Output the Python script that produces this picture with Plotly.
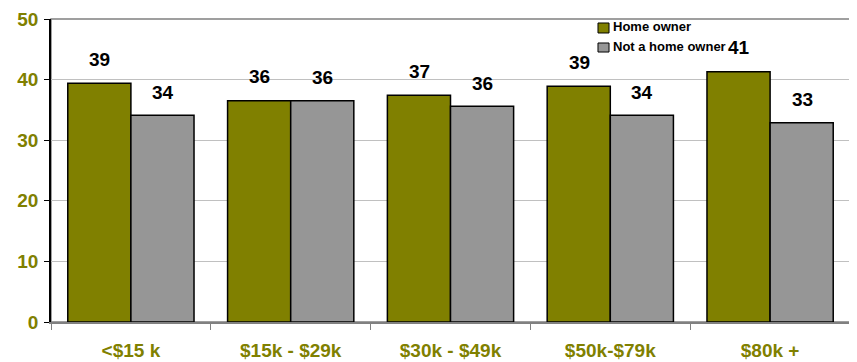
import plotly.graph_objects as go

# ---------- Data ----------
categories = ["<$15 k", "$15k - $29k", "$30k - $49k", "$50k-$79k", "$80k +"]
home_owner = [39.4, 36.5, 37.4, 38.9, 41.3]
not_home_owner = [34.1, 36.5, 35.6, 34.1, 32.9]
home_owner_labels = ["39", "36", "37", "39", "41"]
not_home_owner_labels = ["34", "36", "36", "34", "33"]
series_names = ["Home owner", "Not a home owner"]

OLIVE = "#808000"
GRAY = "#969696"
FONT = "Liberation Sans, Arial, sans-serif"

fig = go.Figure()
fig.add_trace(go.Bar(x=categories, y=home_owner, name=series_names[0],
                     marker=dict(color=OLIVE, line=dict(color="black", width=1.5))))
fig.add_trace(go.Bar(x=categories, y=not_home_owner, name=series_names[1],
                     marker=dict(color=GRAY, line=dict(color="black", width=1.5))))

# value labels sit a bit above each bar
for cat, v, lab in zip(categories, home_owner, home_owner_labels):
    fig.add_annotation(x=cat, y=v, text=f"<b>{lab}</b>", showarrow=False,
                       xshift=-31, yshift=24, font=dict(size=19, color="black", family=FONT))
for cat, v, lab in zip(categories, not_home_owner, not_home_owner_labels):
    fig.add_annotation(x=cat, y=v, text=f"<b>{lab}</b>", showarrow=False,
                       xshift=32, yshift=23, font=dict(size=19, color="black", family=FONT))

# gray frame on top / right
fig.add_shape(type="rect", xref="paper", yref="paper", x0=0, y0=0, x1=1, y1=1,
              line=dict(color="#808080", width=1.5), layer="below")

# small legend drawn by hand (compact squares like the original)
legend_rows = [(0.9538, 0.9868, 0.9736, OLIVE), (0.891, 0.9208, 0.9076, GRAY)]
for name, (y0, y1, yt, col) in zip(series_names, legend_rows):
    fig.add_shape(type="rect", xref="paper", yref="paper", x0=0.6846, x1=0.6984,
                  y0=y0, y1=y1, fillcolor=col, line=dict(color="black", width=1))
    fig.add_annotation(xref="paper", yref="paper", x=0.7009, y=yt, text=f"<b>{name}</b>",
                       showarrow=False, xanchor="left", yanchor="middle",
                       font=dict(size=13, color="black", family=FONT))

# page body has an 8px margin, so margins are shifted to compensate
fig.update_layout(
    width=857, height=362,
    margin=dict(l=43, r=15, t=11, b=48, autoexpand=False),
    paper_bgcolor="white", plot_bgcolor="white",
    barmode="group", bargap=0.21, bargroupgap=0,
    font=dict(family=FONT),
    showlegend=False,
)
fig.update_xaxes(
    showgrid=False, ticks="outside", tickson="boundaries", ticklen=6,
    tickcolor="#808080", showline=True, linecolor="#808080", linewidth=1.5,
    tickfont=dict(size=19, color=OLIVE, family=FONT), ticklabelstandoff=10,
    tickprefix="<b>", ticksuffix="</b>", automargin=False,
)
fig.update_yaxes(
    range=[0, 50], dtick=10, showgrid=True, gridcolor="#c0c0c0", gridwidth=1,
    ticks="outside", ticklen=5, tickcolor="black", showline=True,
    linecolor="black", linewidth=1.5, zeroline=False,
    tickfont=dict(size=19, color=OLIVE, family=FONT), ticklabelstandoff=2,
    tickprefix="<b>", ticksuffix="</b>", automargin=False,
)

fig.write_html("out.html")
